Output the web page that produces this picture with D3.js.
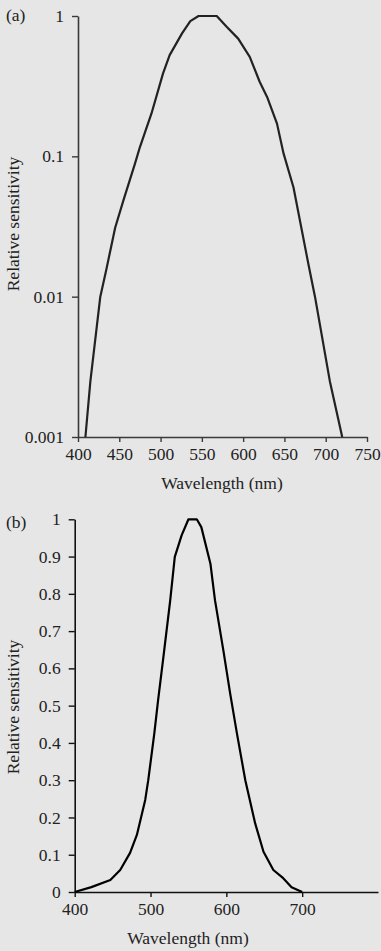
<!DOCTYPE html>
<html>
<head>
<meta charset="utf-8">
<script src="https://cdn.jsdelivr.net/npm/d3@7"></script>
<style>
  html, body { margin: 0; padding: 0; background: #e6e6e6; }
  svg { display: block; }
  text { font-family: "Liberation Serif", "Times New Roman", serif; fill: #222; }
</style>
</head>
<body>
<svg id="chart" width="381" height="951"></svg>
<script>
// Panel (a): relative sensitivity on a logarithmic scale
const wavelengthA = [409, 415, 427, 434, 445, 455, 469, 475, 489, 503, 511, 526, 536, 546, 568, 580, 594, 608, 620, 629, 641, 649, 661, 679, 687, 705, 720];
const sensitivityA = [0.001, 0.0025, 0.01, 0.0153, 0.031, 0.0485, 0.0887, 0.1165, 0.202, 0.39, 0.526, 0.752, 0.92, 1, 1, 0.839, 0.69, 0.512, 0.34, 0.265, 0.171, 0.1045, 0.06, 0.0171, 0.01, 0.0025, 0.001];
const xTicksA = [400, 450, 500, 550, 600, 650, 700, 750];
const yTicksA = [0.001, 0.01, 0.1, 1];

// Panel (b): relative sensitivity on a linear scale
const wavelengthB = [400, 422, 447, 460, 473, 482, 493, 497, 505, 510, 517, 526, 532, 541, 550, 561, 567, 579, 585, 596, 605, 614, 625, 638, 649, 662, 675, 686, 700];
const sensitivityB = [0, 0.013, 0.032, 0.059, 0.105, 0.153, 0.247, 0.30, 0.4255, 0.515, 0.631, 0.783, 0.899, 0.957, 1, 1, 0.979, 0.881, 0.783, 0.649, 0.533, 0.425, 0.30, 0.184, 0.108, 0.059, 0.037, 0.013, 0];
const xTicksB = [400, 500, 600, 700];
const yTicksB = [0, 0.1, 0.2, 0.3, 0.4, 0.5, 0.6, 0.7, 0.8, 0.9, 1];

const svg = d3.select("#chart");
const FONT = 17.5;

function drawPanel(cfg) {
  const g = svg.append("g");
  const x = d3.scaleLinear().domain(cfg.xDomain).range([cfg.left, cfg.right]);
  const y = cfg.yScale.range([cfg.bottom, cfg.top]);

  // x axis
  const xAxis = d3.axisBottom(x).tickValues(cfg.xTicks).tickSize(5).tickSizeOuter(0).tickPadding(6)
    .tickFormat(d3.format("d"));
  const gx = g.append("g").attr("transform", `translate(0,${cfg.bottom})`).call(xAxis);
  // y axis
  const yAxis = d3.axisLeft(y).tickValues(cfg.yTicks).tickSize(6).tickSizeOuter(0).tickPadding(8)
    .tickFormat(cfg.yFormat);
  const gy = g.append("g").attr("transform", `translate(${cfg.left},0)`).call(yAxis);

  [gx, gy].forEach(a => {
    a.selectAll("path.domain").attr("stroke", cfg.axisColor).attr("stroke-width", 1.6);
    a.selectAll(".tick line").attr("stroke", cfg.axisColor).attr("stroke-width", 1.4);
    a.selectAll(".tick text").attr("font-size", FONT).attr("fill", "#222")
      .style("font-family", '"Liberation Serif", serif');
  });

  // curve
  const line = d3.line().x((d, i) => x(cfg.wl[i])).y(d => y(d));
  g.append("path").datum(cfg.values)
    .attr("d", line)
    .attr("fill", "none")
    .attr("stroke", cfg.lineColor)
    .attr("stroke-width", 2.2)
    .attr("stroke-linejoin", "round");

  // axis titles
  g.append("text")
    .attr("x", cfg.xTitleX).attr("y", cfg.xTitleY)
    .attr("text-anchor", "middle").attr("font-size", FONT)
    .text("Wavelength (nm)");
  g.append("text")
    .attr("transform", `translate(${cfg.yTitleX},${cfg.yTitleY}) rotate(-90)`)
    .attr("text-anchor", "middle").attr("font-size", FONT)
    .text("Relative sensitivity");
  // panel tag
  g.append("text")
    .attr("x", 6).attr("y", cfg.tagY)
    .attr("font-size", FONT)
    .text(cfg.tag);
}

drawPanel({
  tag: "(a)", tagY: 21,
  xDomain: [400, 750], left: 78, right: 367,
  yScale: d3.scaleLog().domain([0.001, 1]), top: 16, bottom: 437,
  xTicks: xTicksA, yTicks: yTicksA,
  yFormat: d => (d === 1 ? "1" : String(d)),
  wl: wavelengthA, values: sensitivityA,
  axisColor: "#3a3a3a", lineColor: "#222",
  xTitleX: 222, xTitleY: 489, yTitleX: 19, yTitleY: 224
});

drawPanel({
  tag: "(b)", tagY: 528,
  xDomain: [400, 800], left: 74.7, right: 378,
  yScale: d3.scaleLinear().domain([0, 1]), top: 519.3, bottom: 892,
  xTicks: xTicksB, yTicks: yTicksB,
  yFormat: d => (d === 0 ? "0" : d === 1 ? "1" : d3.format(".1f")(d)),
  wl: wavelengthB, values: sensitivityB,
  axisColor: "#111", lineColor: "#000",
  xTitleX: 188, xTitleY: 944, yTitleX: 19, yTitleY: 707
});
</script>
</body>
</html>
